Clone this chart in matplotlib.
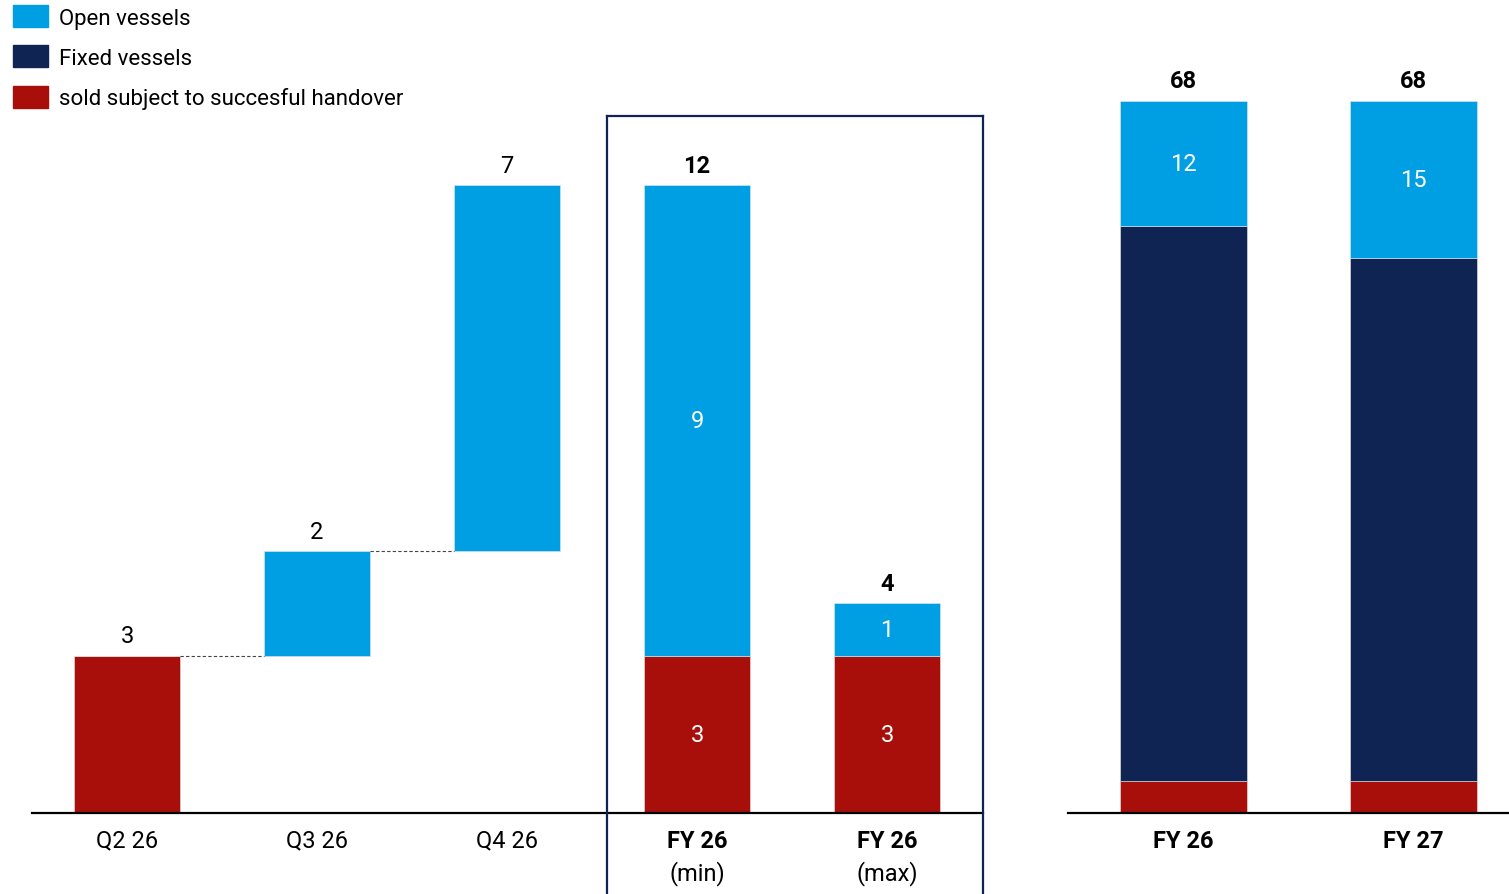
import matplotlib.pyplot as plt
from matplotlib.patches import Patch
from matplotlib.lines import Line2D

plt.rcParams['font.family'] = ['Roboto', 'DejaVu Sans']

# colours
c_open = '#009FE3'
c_fixed = '#0F2452'
c_sold = '#A80F0A'

# left panel (waterfall + FY26 min/max)
cats_left = ['Q2 26', 'Q3 26', 'Q4 26', 'FY 26', 'FY 26']
sub_left = ['', '', '', '(min)', '(max)']
sold_left = [3, 0, 0, 3, 3]
open_left = [0, 2, 7, 9, 1]
base_left = [0, 3, 5, 0, 0]     # waterfall offsets
totals_left = [3, 2, 7, 12, 4]

# right panel
cats_right = ['FY 26', 'FY 27']
sold_right = [3, 3]
fixed_right = [53, 50]
open_right = [12, 15]
totals_right = [68, 68]

W, H = 1509, 895
fig = plt.figure(figsize=(W / 100, H / 100), dpi=100)

axL = fig.add_axes([32 / W, 81.5 / H, (983 - 32) / W, 712 / H])
axR = fig.add_axes([1068 / W, 81.5 / H, 441 / W, 712 / H])

for ax in (axL, axR):
    for s in ('top', 'right', 'left'):
        ax.spines[s].set_visible(False)
    ax.spines['bottom'].set_linewidth(1.6)
    ax.set_yticks([])
    ax.set_xticks([])

# --- left
x = list(range(len(cats_left)))
wL = 0.56
sold_b = [b for b in base_left]
axL.bar(x, sold_left, wL, bottom=sold_b, color=c_sold, edgecolor='#e8e8e8', linewidth=0.4)
open_b = [b + s for b, s in zip(base_left, sold_left)]
axL.bar(x, open_left, wL, bottom=open_b, color=c_open, edgecolor='#e8e8e8', linewidth=0.4)
axL.set_xlim(-0.5, 4.505)
axL.set_ylim(0, 712 / 52.3)

# connectors
for i in range(2):
    top = base_left[i] + sold_left[i] + open_left[i]
    axL.plot([x[i] + wL / 2, x[i + 1] - wL / 2], [top, top], ls=(0, (3, 2)),
             color='#444444', lw=0.8)

for i in range(len(x)):
    top = base_left[i] + sold_left[i] + open_left[i]
    bold = i >= 3
    axL.text(x[i], top + 0.16, str(totals_left[i]), ha='center', va='bottom',
             fontsize=17, fontweight='bold' if bold else 'normal', color='black')
    if i >= 3:
        axL.text(x[i], sold_left[i] / 2, str(sold_left[i]), ha='center', va='center',
                 fontsize=17, color='white')
        axL.text(x[i], sold_left[i] + open_left[i] / 2, str(open_left[i]), ha='center',
                 va='center', fontsize=17, color='white')
    tr = axL.get_xaxis_transform()
    axL.text(x[i], -0.039, cats_left[i], transform=tr, ha='center', va='center',
             fontsize=17, fontweight='bold' if bold else 'normal')
    if sub_left[i]:
        axL.text(x[i], -0.084, sub_left[i], transform=tr, ha='center', va='center',
                 fontsize=17)

# --- right
xr = list(range(len(cats_right)))
wR = 0.552
axR.bar(xr, sold_right, wR, color=c_sold, edgecolor='#e8e8e8', linewidth=0.4)
axR.bar(xr, fixed_right, wR, bottom=sold_right, color=c_fixed, edgecolor='#e8e8e8', linewidth=0.4)
b2 = [a + b for a, b in zip(sold_right, fixed_right)]
axR.bar(xr, open_right, wR, bottom=b2, color=c_open, edgecolor='#e8e8e8', linewidth=0.4)
axR.set_xlim(-0.5, 1.417)
axR.set_ylim(0, 68)
for i in xr:
    axR.text(xr[i], totals_right[i] + 0.8, str(totals_right[i]), ha='center', va='bottom',
             fontsize=17, fontweight='bold')
    axR.text(xr[i], b2[i] + open_right[i] / 2, str(open_right[i]), ha='center', va='center',
             fontsize=17, color='white')
    axR.text(xr[i], -0.039, cats_right[i], transform=axR.get_xaxis_transform(),
             ha='center', va='center', fontsize=17, fontweight='bold')

# box around FY26 min/max
bx0, bx1, by = 607 / W, 983 / W, 1 - 117 / H
for xs, ys in (([bx0, bx1], [by, by]), ([bx0, bx0], [0, by]), ([bx1, bx1], [0, by])):
    fig.add_artist(Line2D(xs, ys, color=c_fixed, lw=1.6, transform=fig.transFigure))

# legend
handles = [Patch(color=c_open), Patch(color=c_fixed), Patch(color=c_sold)]
labels = ['Open vessels', 'Fixed vessels', 'sold subject to succesful handover']
fig.legend(handles, labels, loc='upper left', bbox_to_anchor=(0.003, 1.003), frameon=False,
           fontsize=16, handlelength=1.55, handleheight=1.15, handletextpad=0.5,
           labelspacing=0.75, borderaxespad=0.0)

fig.savefig('out.png', dpi=100)
